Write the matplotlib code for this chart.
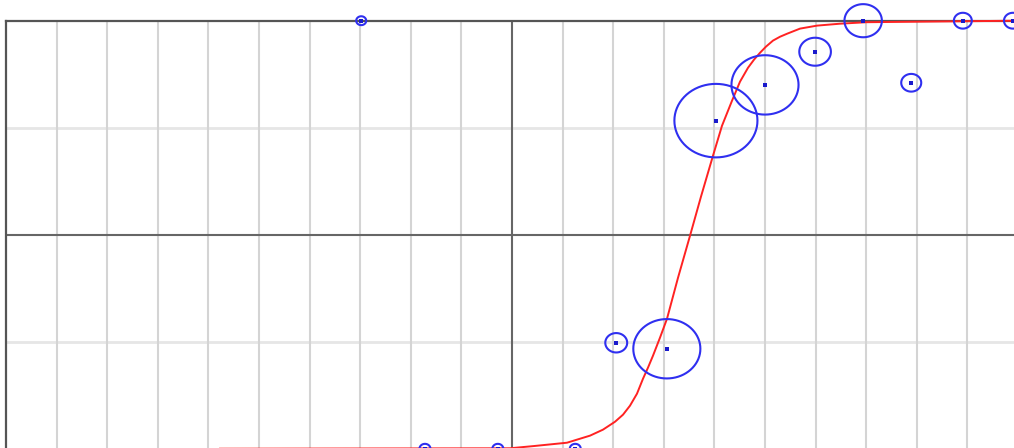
import numpy as np
import matplotlib
matplotlib.use("Agg")
import matplotlib.pyplot as plt
from matplotlib.path import Path

# ---- data ----
obs_x = [-2.98, -1.72, -0.28, 1.25, 2.06, 3.06, 4.03, 5.0, 5.99, 6.94, 7.89, 8.91, 9.9]
obs_y = [1.0, -1.0, -1.0, -1.0, -0.505, -0.533, 0.533, 0.70, 0.855, 1.0, 0.71, 1.0, 1.0]
obs_weight = [1.0, 1.2, 1.2, 1.2, 4.8, 45, 69, 45, 10, 14, 4, 3.2, 3.2]

fit_x = [-5.77, -0.04, 0.415, 1.087, 1.542, 1.798, 2.036, 2.194, 2.332, 2.470,
         2.589, 2.688, 2.787, 2.925, 3.063, 3.281, 3.518, 3.735, 3.972, 4.150,
         4.348, 4.506, 4.664, 4.783, 4.901, 5.020, 5.158, 5.296, 5.435, 5.692,
         6.028, 6.482, 7.016, 10.0]
fit_y = [-1.0, -0.998, -0.988, -0.972, -0.939, -0.911, -0.874, -0.841, -0.799,
         -0.743, -0.673, -0.621, -0.565, -0.481, -0.393, -0.201, -0.005, 0.178,
         0.369, 0.509, 0.626, 0.715, 0.780, 0.818, 0.850, 0.879, 0.907, 0.925,
         0.939, 0.963, 0.977, 0.986, 0.993, 1.0]

# ---- figure ----
W, H, DPI = 1014, 448, 100
fig = plt.figure(figsize=(W / DPI, H / DPI), dpi=DPI)

px_per_x = 50.6
px_per_y = 214.0
xmin, xmax = -10.0, 10.0
ymin, ymax = -1.2, 1.0
left_px, top_px = 6.0, 20.7
ax_w = (xmax - xmin) * px_per_x
ax_h = (ymax - ymin) * px_per_y
bottom_px = H - top_px - ax_h
ax = fig.add_axes([left_px / W, bottom_px / H, ax_w / W, ax_h / H])
ax.set_xlim(xmin, xmax)
ax.set_ylim(ymin, ymax)

ax.set_xticks([])
ax.set_yticks([])
for v in np.arange(-9, 10, 1):
    if v != 0:
        ax.axvline(v, color="#d4d4d4", lw=1.5, zorder=0.5)
for v in [-1.0, -0.5, 0.5]:
    ax.axhline(v, color="#e6e6e6", lw=2.0, zorder=0.4)
ax.axvline(0, color="#666666", lw=1.5, zorder=1)
ax.axhline(0, color="#666666", lw=1.5, zorder=1)

for s in ["bottom", "right"]:
    ax.spines[s].set_visible(False)
for s in ["top", "left"]:
    ax.spines[s].set_color("#555555")
    ax.spines[s].set_linewidth(1.6)
    ax.spines[s].set_zorder(1.5)

# fitted curve
ax.plot(fit_x, fit_y, color="#ff2222", lw=1.4, zorder=3, clip_on=False)

# ellipse marker (slightly wider than tall)
t = np.linspace(0, 2 * np.pi, 73)
ell = Path(np.column_stack([np.cos(t), 0.885 * np.sin(t)]), closed=True)
diam_px = 10.0 * np.sqrt(np.array(obs_weight))
sizes = (diam_px * 72.0 / DPI) ** 2
ax.scatter(obs_x, obs_y, s=sizes, marker=ell, facecolors="none",
           edgecolors="#2f2ff0", linewidths=1.5, zorder=4, clip_on=False)
ax.scatter(obs_x, obs_y, s=7, marker="s", color="#1a1acc", linewidths=0,
           zorder=5, clip_on=False)

fig.savefig("out.png", dpi=DPI)
